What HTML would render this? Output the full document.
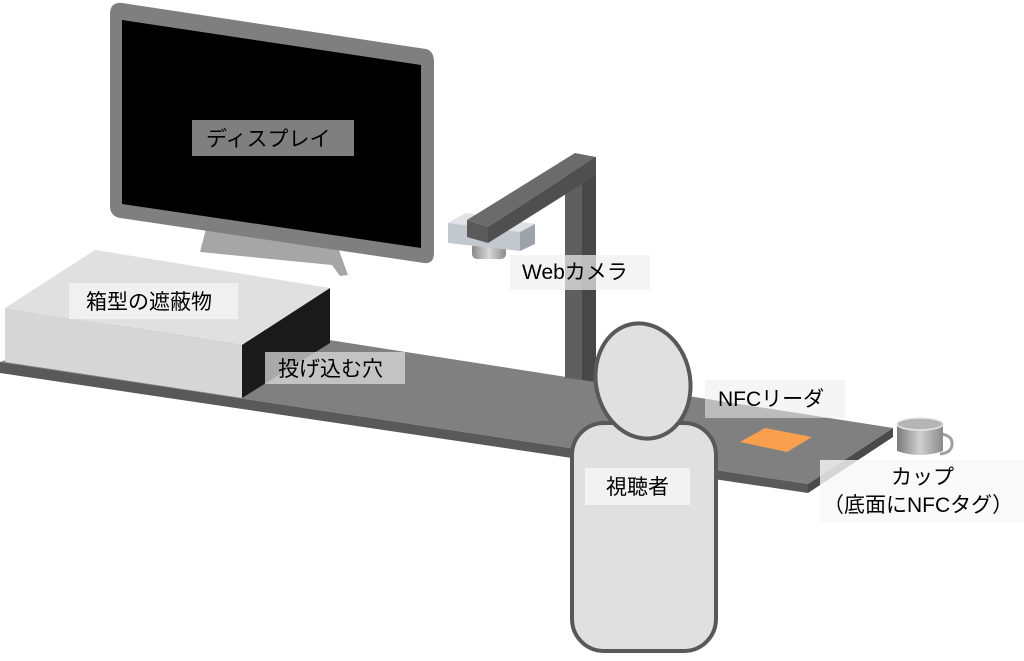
<!DOCTYPE html>
<html><head><meta charset="utf-8"><style>
html,body{margin:0;padding:0;background:#fff;width:1024px;height:661px;overflow:hidden}
svg{display:block}
text{font-family:"Liberation Sans","Noto Sans CJK JP",sans-serif;font-size:21px;fill:#000}
</style></head><body>
<svg width="1024" height="661" viewBox="0 0 1024 661">
<defs>
<linearGradient id="cup" x1="0" x2="1"><stop offset="0" stop-color="#7a7a7a"/><stop offset="0.5" stop-color="#d0d0d0"/><stop offset="1" stop-color="#8a8a8a"/></linearGradient>
<linearGradient id="cyl" x1="0" x2="1"><stop offset="0" stop-color="#888"/><stop offset="0.5" stop-color="#d8d8d8"/><stop offset="1" stop-color="#8a8a8a"/></linearGradient>
</defs>
<!-- monitor stand -->
<polygon points="207,225 337,245 348,275 340,276 332,265 200,252" fill="#a6a6a6"/>
<!-- monitor -->
<path d="M122,3 L426,49 Q434,51 434,62 L434,253 Q434,264 424,263 L120,218 Q110,216 110,206 L110,14 Q110,2 122,3 Z" fill="#7f7f7f"/>
<polygon points="122,20 421,65 421,248 122,204" fill="#000"/>
<rect x="192" y="120" width="162" height="36" fill="#7f7f7f"/>
<text x="206" y="146">ディスプレイ</text>
<!-- table -->
<polygon points="0,362 808,484 893,428 150,312" fill="#808080"/>
<polygon points="0,362 808,484 808,493 0,373" fill="#595959"/>
<polygon points="808,484 893,428 893,437 808,493" fill="#4a4a4a"/>
<!-- box -->
<polygon points="5,308 95,250 330,288 242,345" fill="#e0e0e0"/>
<polygon points="5,308 242,345 242,398 5,362" fill="#d6d6d6"/>
<polygon points="242,345 330,288 330,343 242,398" fill="#1a1a1a"/>
<rect x="69" y="283" width="169" height="36" fill="#f2f2f2" opacity="0.9"/>
<text x="86" y="309">箱型の遮蔽物</text>
<rect x="265" y="352" width="140" height="32" fill="#d9d9d9" opacity="0.75"/>
<text x="278" y="376">投げ込む穴</text>
<!-- camera post -->
<polygon points="565,163 582,158 582,380 565,378" fill="#5f5f5f"/>
<polygon points="582,158 596,157 596,382 582,380" fill="#474747"/>
<!-- camera -->
<rect x="472" y="242" width="34" height="17" rx="5" fill="url(#cyl)"/>
<polygon points="448,223 466,213 535,224 520,232" fill="#dfe2e6"/>
<polygon points="448,223 520,232 520,251 448,243" fill="#c3c8cf"/>
<polygon points="520,232 535,224 535,244 520,251" fill="#9ea3aa"/>
<!-- arm -->
<polygon points="467,220 575,153 596,157 488,227" fill="#6b6b6b"/>
<polygon points="488,227 596,157 596,175 582,184 488,243" fill="#4f4f4f"/>
<polygon points="467,220 488,227 488,243 467,237" fill="#5a5a5a"/>
<rect x="510" y="255" width="140" height="35" fill="#f0f0f0" opacity="0.7"/>
<text x="522" y="279">Webカメラ</text>
<!-- NFC reader -->
<polygon points="740,442 765,428 812,437 787,452" fill="#f9a04e"/>
<rect x="705" y="380" width="140" height="38" fill="#ececec" opacity="0.55"/>
<text x="718" y="406">NFCリーダ</text>
<!-- person -->
<rect x="572" y="423" width="144" height="228" rx="32" fill="#e0e0e0" stroke="#595959" stroke-width="4"/>
<ellipse cx="643" cy="381" rx="47" ry="58" transform="rotate(-12 643 381)" fill="#e0e0e0" stroke="#595959" stroke-width="4"/>
<rect x="585" y="468" width="105" height="37" fill="#f2f2f2"/>
<text x="606" y="494">視聴者</text>
<!-- cup -->
<path d="M940,434 q13,1 12,11 q-1,8 -12,9" fill="none" stroke="#a0a0a0" stroke-width="3"/>
<path d="M897,424 L897,451 Q920,459 943,451 L943,424 Z" fill="url(#cup)"/>
<ellipse cx="920" cy="424" rx="23" ry="6" fill="#b5b5b5" stroke="#e8e8e8" stroke-width="1.5"/>
<rect x="820" y="460" width="204" height="62" fill="#f7f7f7" opacity="0.8"/>
<text x="891" y="484">カップ</text>
<text x="823" y="512">（底面にNFCタグ）</text>
</svg>
</body></html>
